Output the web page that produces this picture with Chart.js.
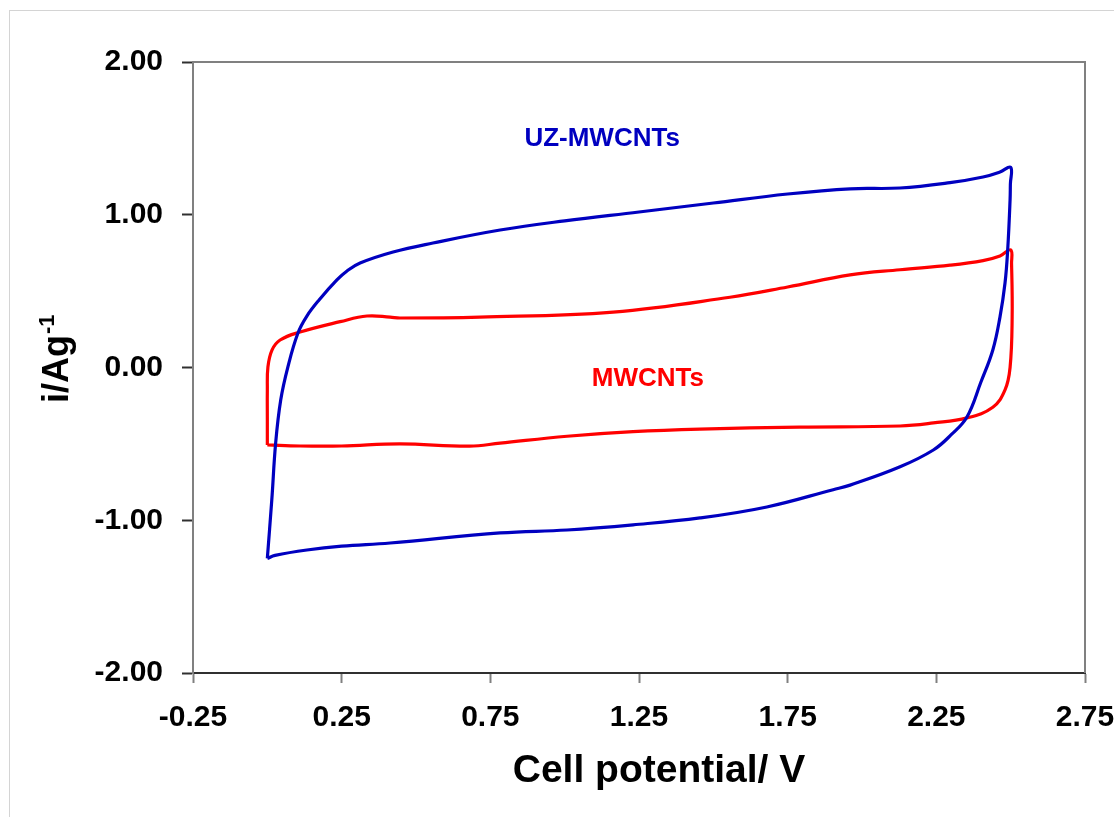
<!DOCTYPE html>
<html>
<head>
<meta charset="utf-8">
<script src="https://cdn.jsdelivr.net/npm/chart.js@4/dist/chart.umd.min.js"></script>
<style>
  html, body { margin: 0; padding: 0; background: #ffffff; }
  #wrap { width: 1114px; height: 817px; }
</style>
</head>
<body>
<div id="wrap"><canvas id="cv" width="1114" height="817"></canvas></div>
<script>
// Cyclic voltammograms: current density (A/g) against cell potential (V)
const uzPotential = [0.000, 0.015, 0.028, 0.045, 0.069, 0.103, 0.133, 0.174, 0.234, 0.268, 0.312, 0.423, 0.557, 0.783, 1.000, 1.250, 1.500, 1.750, 1.960, 2.128, 2.296, 2.407, 2.464, 2.500,
                     2.499, 2.498, 2.490, 2.481, 2.464, 2.440, 2.400, 2.353, 2.300, 2.240, 2.128, 1.960, 1.903, 1.680, 1.455, 1.230, 1.008, 0.783, 0.413, 0.250, 0.133, 0.026, 0.000];
const uzCurrent   = [-1.25, -0.867, -0.494, -0.213, 0.003, 0.226, 0.337, 0.442, 0.573, 0.632, 0.684, 0.756, 0.815, 0.900, 0.960, 1.018, 1.077, 1.136, 1.170, 1.175, 1.210, 1.247, 1.280, 1.310,
                     1.200, 1.097, 0.770, 0.553, 0.330, 0.115, -0.095, -0.324, -0.440, -0.540, -0.650, -0.770, -0.800, -0.913, -0.985, -1.030, -1.064, -1.083, -1.149, -1.170, -1.195, -1.230, -1.250];

const mwPotential = [0.000, 0.000, 0.000, 0.002, 0.016, 0.043, 0.110, 0.245, 0.335, 0.413, 0.446, 0.715, 1.163, 1.556, 1.750, 1.960, 2.128, 2.296, 2.407, 2.464, 2.500,
                     2.503, 2.505, 2.498, 2.481, 2.440, 2.353, 2.240, 2.128, 1.790, 1.455, 1.230, 1.008, 0.783, 0.680, 0.446, 0.250, 0.110, 0.000];
const mwCurrent   = [-0.507, -0.344, -0.147, 0.003, 0.115, 0.180, 0.232, 0.300, 0.337, 0.330, 0.324, 0.330, 0.363, 0.460, 0.527, 0.606, 0.640, 0.670, 0.700, 0.730, 0.770,
                     0.680, 0.330, 0.000, -0.147, -0.260, -0.330, -0.363, -0.383, -0.390, -0.403, -0.420, -0.450, -0.495, -0.515, -0.500, -0.514, -0.514, -0.507];

const potentialTicks = [-0.25, 0.25, 0.75, 1.25, 1.75, 2.25, 2.75];
const currentTicks = [-2, -1, 0, 1, 2];

const seriesNames = ['UZ-MWCNTs', 'MWCNTs'];
const labelSpots = [[1.126, 1.496], [1.28, -0.075]];

const toPoints = (xs, ys) => xs.map((x, i) => ({ x: x, y: ys[i] }));

const FONT = '"Liberation Sans", Arial, sans-serif';
const BLUE = '#0000c0';
const RED = '#ff0000';

// Frame lines, curve labels and axis titles
const decorations = {
  id: 'decorations',
  beforeDraw(chart) {
    const ctx = chart.ctx;
    ctx.save();
    ctx.fillStyle = '#ffffff';
    ctx.fillRect(0, 0, chart.width, chart.height);
    ctx.strokeStyle = '#d4d4d4';
    ctx.lineWidth = 1;
    ctx.strokeRect(9.5, 10.5, 1200, 900);
    ctx.restore();
  },
  beforeDatasetsDraw(chart) {
    const { ctx, chartArea: a } = chart;
    ctx.save();
    ctx.strokeStyle = '#808080';
    ctx.lineWidth = 2;
    ctx.beginPath();
    ctx.moveTo(a.left, a.top);
    ctx.lineTo(a.right, a.top);
    ctx.lineTo(a.right, a.bottom);
    ctx.stroke();
    ctx.restore();
  },
  afterDraw(chart) {
    const { ctx, scales } = chart;
    ctx.save();
    // curve labels
    ctx.font = 'bold 26px ' + FONT;
    ctx.textAlign = 'center';
    ctx.textBaseline = 'middle';
    [BLUE, RED].forEach((c, i) => {
      ctx.fillStyle = c;
      ctx.fillText(seriesNames[i],
        scales.x.getPixelForValue(labelSpots[i][0]),
        scales.y.getPixelForValue(labelSpots[i][1]));
    });
    // x axis title
    ctx.fillStyle = '#000000';
    ctx.font = 'bold 39px ' + FONT;
    ctx.textBaseline = 'alphabetic';
    ctx.fillText('Cell potential/ V', 659, 782);
    // y axis title with superscript
    ctx.translate(68, 403);
    ctx.rotate(-Math.PI / 2);
    ctx.textAlign = 'left';
    ctx.font = 'bold 36px ' + FONT;
    ctx.fillText('i/Ag', 0, 0);
    const w = ctx.measureText('i/Ag').width;
    ctx.font = 'bold 22px ' + FONT;
    ctx.fillText('-1', w + 1, -14);
    ctx.restore();
  }
};

new Chart(document.getElementById('cv'), {
  type: 'scatter',
  data: {
    datasets: [
      {
        label: seriesNames[0],
        data: toPoints(uzPotential, uzCurrent),
        showLine: true,
        borderColor: BLUE,
        borderWidth: 3.2,
        pointRadius: 0,
        tension: 0.4
      },
      {
        label: seriesNames[1],
        data: toPoints(mwPotential, mwCurrent),
        showLine: true,
        borderColor: RED,
        borderWidth: 3.2,
        pointRadius: 0,
        tension: 0.4
      }
    ]
  },
  options: {
    responsive: false,
    animation: false,
    layout: { padding: { left: 0, top: 62, right: 29, bottom: 0 } },
    plugins: {
      legend: { display: false },
      tooltip: { enabled: false }
    },
    scales: {
      x: {
        type: 'linear',
        min: -0.25,
        max: 2.75,
        afterBuildTicks: (s) => { s.ticks = potentialTicks.map(v => ({ value: v })); },
        afterFit: (s) => { s.height = 144; s.paddingLeft = 0; s.paddingRight = 0; },
        grid: { drawOnChartArea: false, drawTicks: true, tickLength: 10, tickColor: '#808080', tickWidth: 2 },
        border: { color: '#303030', width: 2 },
        ticks: {
          padding: 17,
          maxRotation: 0,
          autoSkip: false,
          color: '#000000',
          font: { family: FONT, size: 30, weight: 'bold' },
          callback: (v) => Number(v).toFixed(2)
        }
      },
      y: {
        type: 'linear',
        min: -2,
        max: 2,
        afterBuildTicks: (s) => { s.ticks = currentTicks.map(v => ({ value: v })); },
        afterFit: (s) => { s.width = 193; },
        grid: { drawOnChartArea: false, drawTicks: true, tickLength: 11, tickColor: '#303030', tickWidth: 2 },
        border: { color: '#808080', width: 2 },
        ticks: {
          padding: 19,
          autoSkip: false,
          color: '#000000',
          font: { family: FONT, size: 30, weight: 'bold' },
          callback: (v) => Number(v).toFixed(2)
        }
      }
    }
  },
  plugins: [decorations]
});
</script>
</body>
</html>
